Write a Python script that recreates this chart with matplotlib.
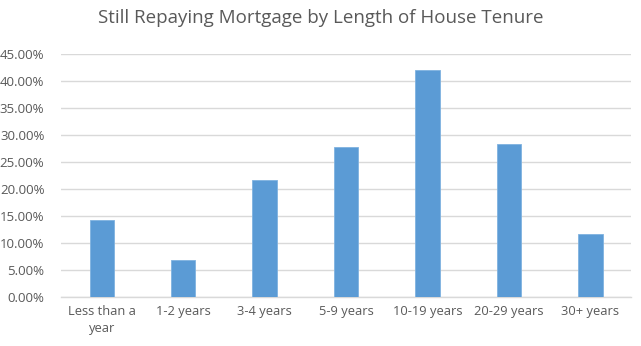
import matplotlib
matplotlib.use("Agg")
import matplotlib.pyplot as plt
from matplotlib.ticker import FuncFormatter, MultipleLocator

categories = ["Less than a\nyear", "1-2 years", "3-4 years", "5-9 years",
              "10-19 years", "20-29 years", "30+ years"]
values = [14.2, 6.8, 21.6, 27.7, 42.0, 28.3, 11.6]

plt.rcParams['font.family'] = ['Open Sans', 'DejaVu Sans']

fig = plt.figure(figsize=(6.41, 3.46), dpi=100)
ax = fig.add_axes([61/641, 49.3/346, 570/641, (296.7-54.3)/346])

x = list(range(len(categories)))
ax.bar(x, values, width=0.30, color='#5B9BD5', edgecolor='#7FB2E0', linewidth=0.6, zorder=3)

ax.set_xlim(-0.5, len(categories) - 0.5)
ax.set_ylim(0, 45)
ax.yaxis.set_major_locator(MultipleLocator(5))
ax.yaxis.set_major_formatter(FuncFormatter(lambda v, p: f"{v:.2f}%"))
ax.grid(axis='y', color='#D9D9D9', linewidth=1.0, zorder=0)
ax.set_axisbelow(True)
for s in ['top', 'right', 'left']:
    ax.spines[s].set_visible(False)
ax.spines['bottom'].set_color('#D9D9D9')
ax.spines['bottom'].set_linewidth(1.0)

ax.set_xticks(x)
ax.set_xticklabels(categories, fontsize=9.3, color='#595959', linespacing=1.4)
ax.tick_params(axis='x', length=0, pad=6)
ax.tick_params(axis='y', length=0, pad=12, labelsize=9.5, labelcolor='#595959')

fig.text(0.5, 1 - 18/346, "Still Repaying Mortgage by Length of House Tenure",
         ha='center', va='center', fontsize=13.5, color='#595959')

fig.savefig("out.png", dpi=100)
